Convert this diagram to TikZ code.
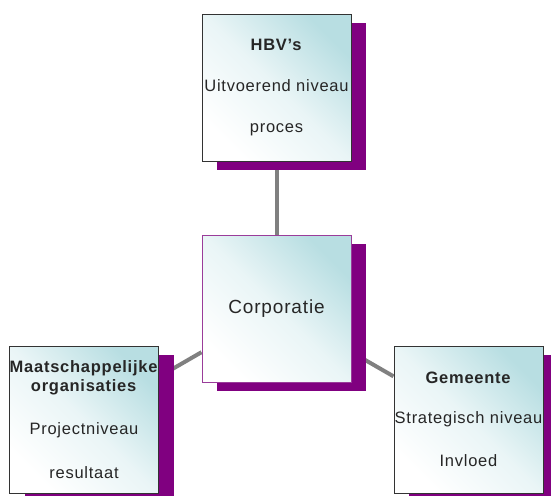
\documentclass[tikz,border=0pt]{standalone}
\usepackage{fontspec}
\setmainfont{Liberation Sans}[LetterSpace=4.5]
\usepackage{tikz}
\usetikzlibrary{shadows,backgrounds}
\definecolor{plum}{HTML}{800080}
\definecolor{lightteal}{HTML}{B8DEE2}
\definecolor{linegray}{HTML}{808080}
\definecolor{rim}{HTML}{333333}
\definecolor{corprim}{HTML}{9A3C9A}

\begin{document}
\begin{tikzpicture}[
  x=1pt,y=-1pt,
  font=\fontsize{16.5}{19}\selectfont,
  level/.style={draw=rim,line width=1pt,top color=lightteal,bottom color=white,middle color=lightteal!30,shading angle=-45,
    minimum width=149pt,minimum height=147pt,align=center,inner sep=0pt,text=black!85,
    drop shadow={fill=plum,opacity=1,shadow xshift=15pt,shadow yshift=-8.5pt}},
  link/.style={draw=linegray,line width=4pt}
]
\useasboundingbox (0,0) rectangle (551,495);
\node[level] (hbv) at (276.5,88) {\textbf{HBV’s}\\[22pt]Uitvoerend niveau\\[22pt]proces};
\node[level,draw=corprim,font=\fontsize{19}{22}\selectfont] (corp) at (276.5,309) {Corporatie};
\node[level] (maat) at (84,420) {\textbf{Maatschappelijke}\\\textbf{organisaties}\\[24pt]Projectniveau\\[25pt]resultaat};
\node[level] (gem) at (468.5,419.5) {\textbf{Gemeente}\\[21pt]Strategisch niveau\\[24pt]Invloed};
\begin{scope}[on background layer]
\draw[link] (hbv) -- (corp);
\draw[link] (maat) -- (corp);
\draw[link] (gem) -- (corp);
\end{scope}
\end{tikzpicture}
\end{document}
